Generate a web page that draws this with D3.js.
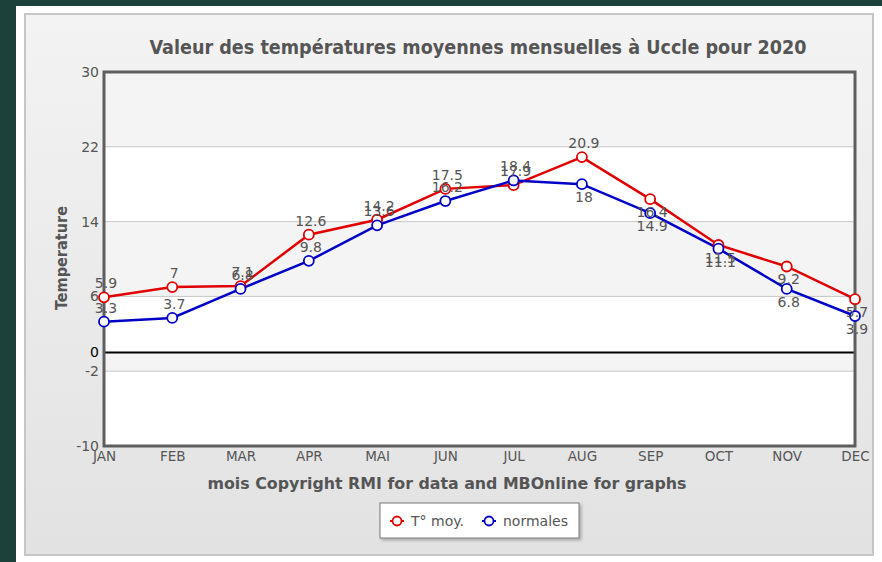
<!DOCTYPE html>
<html>
<head>
<meta charset="utf-8">
<script src="https://cdn.jsdelivr.net/npm/d3@7"></script>
<style>
  html, body { margin: 0; padding: 0; background: #1c403a; }
  svg { display: block; }
</style>
</head>
<body>
<svg id="chart" width="882" height="562"></svg>
<script>
// Monthly mean temperatures at Uccle, 2020, against the climatological normals
const months = ["JAN", "FEB", "MAR", "APR", "MAI", "JUN", "JUL", "AUG", "SEP", "OCT", "NOV", "DEC"];
const tMoy = [5.9, 7, 7.1, 12.6, 14.2, 17.5, 17.9, 20.9, 16.4, 11.5, 9.2, 5.7];
const normales = [3.3, 3.7, 6.8, 9.8, 13.6, 16.2, 18.4, 18, 14.9, 11.1, 6.8, 3.9];
const yTicks = [-10, -2, 0, 6, 14, 22, 30];
const seriesNames = ["T° moy.", "normales"];

const W = 882, H = 562;
const svg = d3.select("#chart");
const labelFont = "'DejaVu Sans', Verdana, sans-serif";
const boldFont = "'DejaVu Sans Condensed', 'DejaVu Sans', sans-serif";

// page frame
svg.append("rect").attr("x", 16).attr("y", 6).attr("width", W - 16).attr("height", H - 6).attr("fill", "#ffffff");

const defs = svg.append("defs");
const grad = defs.append("linearGradient").attr("id", "panelGrad").attr("x1", 0).attr("y1", 0).attr("x2", 0).attr("y2", 1);
grad.append("stop").attr("offset", "0%").attr("stop-color", "#f3f3f3");
grad.append("stop").attr("offset", "100%").attr("stop-color", "#e2e2e2");
const shadow = defs.append("filter").attr("id", "legendShadow").attr("x", "-10%").attr("y", "-20%").attr("width", "130%").attr("height", "160%");
shadow.append("feDropShadow").attr("dx", 2).attr("dy", 2).attr("stdDeviation", 1.5).attr("flood-color", "#000").attr("flood-opacity", 0.25);

svg.append("rect").attr("x", 25).attr("y", 14).attr("width", 848).attr("height", 541)
  .attr("fill", "url(#panelGrad)").attr("stroke", "#c6c6c6").attr("stroke-width", 2);

// plot area
const plot = { left: 104, right: 855, top: 72, bottom: 446 };
const x = d3.scalePoint().domain(months).range([plot.left, plot.right]).padding(0);
const y = d3.scaleLinear().domain([-10, 30]).range([plot.bottom, plot.top]);

// alternating bands between the tick values
const bands = d3.pairs(yTicks);
svg.append("g").selectAll("rect").data(bands).join("rect")
  .attr("x", plot.left).attr("width", plot.right - plot.left)
  .attr("y", d => y(d[1])).attr("height", d => y(d[0]) - y(d[1]))
  .attr("fill", (d, i) => i % 2 === 0 ? "#ffffff" : "#f4f4f4");

// grid lines
svg.append("g").selectAll("line").data(yTicks.filter(t => t !== 0 && t !== -10 && t !== 30)).join("line")
  .attr("x1", plot.left).attr("x2", plot.right)
  .attr("y1", d => y(d)).attr("y2", d => y(d))
  .attr("stroke", "#c8c8c8").attr("stroke-width", 1);

// zero line
svg.append("line").attr("x1", plot.left).attr("x2", plot.right)
  .attr("y1", y(0)).attr("y2", y(0)).attr("stroke", "#000").attr("stroke-width", 2);

// frame
svg.append("rect").attr("x", plot.left).attr("y", plot.top)
  .attr("width", plot.right - plot.left).attr("height", plot.bottom - plot.top)
  .attr("fill", "none").attr("stroke", "#5e5e5e").attr("stroke-width", 3);

// y axis
const yAxis = svg.append("g").attr("transform", `translate(${plot.left - 2},0)`)
  .call(d3.axisLeft(y).tickValues(yTicks).tickSize(0).tickPadding(3).tickFormat(d => String(d)));
yAxis.select(".domain").remove();
yAxis.selectAll("text").attr("font-family", labelFont).attr("font-size", 14)
  .attr("fill", d => d === 0 ? "#000" : "#555");

// x axis
const xAxis = svg.append("g").attr("transform", `translate(0,${plot.bottom + 2})`)
  .call(d3.axisBottom(x).tickSize(0).tickPadding(3));
xAxis.select(".domain").remove();
xAxis.selectAll("text").attr("font-family", labelFont).attr("font-size", 13.5).attr("fill", "#555");

// titles
svg.append("text").attr("x", 478).attr("y", 54).attr("text-anchor", "middle")
  .attr("font-family", boldFont).attr("font-weight", "bold").attr("font-size", 19).attr("fill", "#555")
  .attr("textLength", 657).attr("lengthAdjust", "spacingAndGlyphs")
  .text("Valeur des températures moyennes mensuelles à Uccle pour 2020");
svg.append("text").attr("x", 447).attr("y", 489).attr("text-anchor", "middle")
  .attr("font-family", boldFont).attr("font-weight", "bold").attr("font-size", 15).attr("fill", "#555")
  .attr("textLength", 479).attr("lengthAdjust", "spacingAndGlyphs")
  .text("mois Copyright RMI for data and MBOnline for graphs");
svg.append("text").attr("transform", `translate(67,258) rotate(-90)`).attr("text-anchor", "middle")
  .attr("font-family", boldFont).attr("font-weight", "bold").attr("font-size", 15).attr("fill", "#555")
  .attr("textLength", 104).attr("lengthAdjust", "spacingAndGlyphs")
  .text("Temperature");

// series
const series = [
  { name: seriesNames[0], values: tMoy, color: "#e00000" },
  { name: seriesNames[1], values: normales, color: "#0000c8" }
];
const line = d3.line().x((d, i) => x(months[i])).y(d => y(d));

series.forEach(s => {
  svg.append("path").datum(s.values).attr("d", line)
    .attr("fill", "none").attr("stroke", s.color).attr("stroke-width", 2.5);
});
series.forEach(s => {
  svg.append("g").selectAll("circle").data(s.values).join("circle")
    .attr("cx", (d, i) => x(months[i])).attr("cy", d => y(d)).attr("r", 5)
    .attr("fill", "#fff").attr("stroke", s.color).attr("stroke-width", 1.8);
});

// value labels: above when the value rises from the previous month, below when it falls
series.forEach(s => {
  svg.append("g").selectAll("text").data(s.values).join("text")
    .attr("x", (d, i) => x(months[i]) + 2)
    .attr("y", (d, i) => {
      const falling = i > 0 && d < s.values[i - 1];
      return falling ? y(d) + 18 : y(d) - 9;
    })
    .attr("text-anchor", "middle")
    .attr("font-family", labelFont).attr("font-size", 14).attr("fill", "#555")
    .text(d => d);
});

// legend
const lg = svg.append("g").attr("transform", "translate(380,503)");
lg.append("rect").attr("width", 199).attr("height", 35).attr("fill", "#fff")
  .attr("stroke", "#777").attr("stroke-width", 1).attr("filter", "url(#legendShadow)");
const legendX = [10, 102];
series.forEach((s, i) => {
  const g = lg.append("g").attr("transform", `translate(${legendX[i]},18)`);
  g.append("line").attr("x1", 0).attr("x2", 14).attr("stroke", s.color).attr("stroke-width", 2);
  g.append("circle").attr("cx", 7).attr("r", 4.5).attr("fill", "#fff").attr("stroke", s.color).attr("stroke-width", 1.8);
  g.append("text").attr("x", 21).attr("y", 5).attr("font-family", labelFont).attr("font-size", 14)
    .attr("fill", "#555").text(s.name);
});
</script>
</body>
</html>
